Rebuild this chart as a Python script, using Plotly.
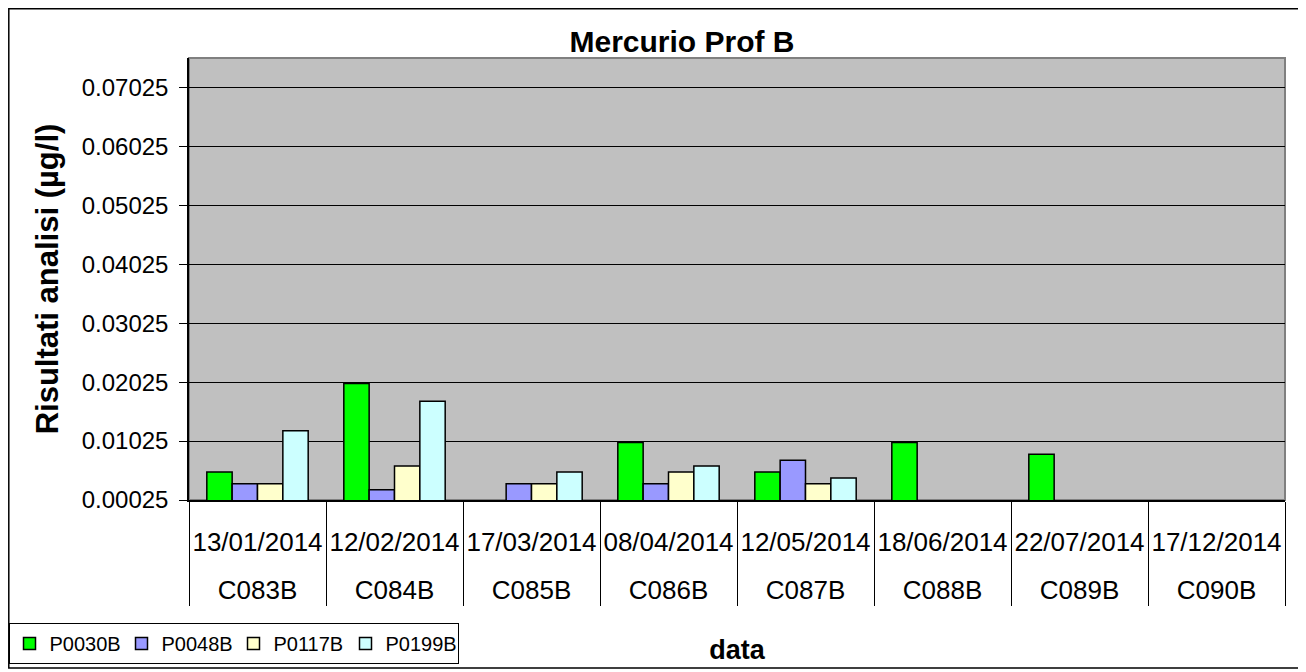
import plotly.graph_objects as go

dates = ["13/01/2014", "12/02/2014", "17/03/2014", "08/04/2014",
         "12/05/2014", "18/06/2014", "22/07/2014", "17/12/2014"]
codes = ["C083B", "C084B", "C085B", "C086B", "C087B", "C088B", "C089B", "C090B"]

p0030b = [0.005, 0.020, None, 0.010, 0.005, 0.010, 0.008, None]
p0048b = [0.003, 0.002, 0.003, 0.003, 0.007, None, None, None]
p0117b = [0.003, 0.006, 0.003, 0.005, 0.003, None, None, None]
p0199b = [0.012, 0.017, 0.005, 0.006, 0.004, None, None, None]

series = [("P0030B", p0030b, "#00FF00"),
          ("P0048B", p0048b, "#9999FF"),
          ("P0117B", p0117b, "#FFFFCC"),
          ("P0199B", p0199b, "#CCFFFF")]

FONT = "Liberation Sans, Arial, sans-serif"

# inner label gets a blank second line so the code row sits lower, as in the reference
date_labels = [d + "<br> " for d in dates]

fig = go.Figure()
for name, vals, col in series:
    fig.add_trace(go.Bar(
        x=[codes, date_labels], y=vals, name=name,
        marker=dict(color=col, line=dict(color="black", width=1.5)),
    ))

OFF = 8  # page body margin
W, H = 1306 - OFF, 672 - OFF
L, R, T, B = 189 - OFF, 21, 58 - OFF, 172
pw, ph = W - L - R, H - T - B

def px(x):  # screen x -> paper
    return (x - OFF - L) / pw

def py(y):  # screen y -> paper
    return (H - B - (y - OFF)) / ph

fig.update_layout(
    width=W, height=H,
    margin=dict(l=L, r=R, t=T, b=B, pad=0, autoexpand=False),
    paper_bgcolor="white",
    plot_bgcolor="#C0C0C0",
    font=dict(family=FONT, size=24, color="black"),
    barmode="group", bargap=0.26, bargroupgap=0,
    title=dict(text="<b>Mercurio Prof B</b>", x=px(682), xref="paper",
               xanchor="center", y=1 - (41 - OFF) / H, yanchor="middle",
               font=dict(size=30, family=FONT, color="black")),
    showlegend=True,
    legend=dict(orientation="h", x=px(OFF + 0.5), y=py(623), xanchor="left", yanchor="top",
                bordercolor="black", borderwidth=1, bgcolor="white",
                font=dict(size=20, family=FONT, color="black"),
                traceorder="normal", entrywidth=67, entrywidthmode="pixels"),
    shapes=[
        dict(type="rect", xref="paper", yref="paper", x0=0, x1=1, y0=0, y1=1,
             line=dict(color="#808080", width=2), layer="below"),
        dict(type="rect", xref="paper", yref="paper", x0=px(OFF + 0.8), x1=px(1302),
             y0=py(668), y1=py(OFF + 0.8), line=dict(color="black", width=1.5),
             fillcolor="rgba(0,0,0,0)", layer="above"),
    ],
)

fig.update_yaxes(
    range=[0.00025, 0.07525], tick0=0.00025, dtick=0.01, tickformat=".5f",
    showgrid=True, gridcolor="black", gridwidth=1,
    ticks="outside", ticklen=8, tickcolor="black", tickwidth=1,
    ticklabelstandoff=6,
    showline=True, linecolor="black", linewidth=1.5,
    zeroline=False, automargin=False,
    tickfont=dict(size=24, family=FONT, color="black"),
    title=dict(text="<b>Risultati analisi (µg/l)</b>", standoff=14,
               font=dict(size=31, family=FONT, color="black")),
)

fig.update_xaxes(
    type="multicategory", automargin=False, tickangle=0,
    showline=True, linecolor="black", linewidth=1.5,
    showdividers=True, dividercolor="black", dividerwidth=1,
    ticks="", ticklabelstandoff=18, showgrid=False,
    tickfont=dict(size=26, family=FONT, color="black"),
    title=dict(text="<b>data</b>", standoff=36,
               font=dict(size=27, family=FONT, color="black")),
)

fig.write_html("out.html")
